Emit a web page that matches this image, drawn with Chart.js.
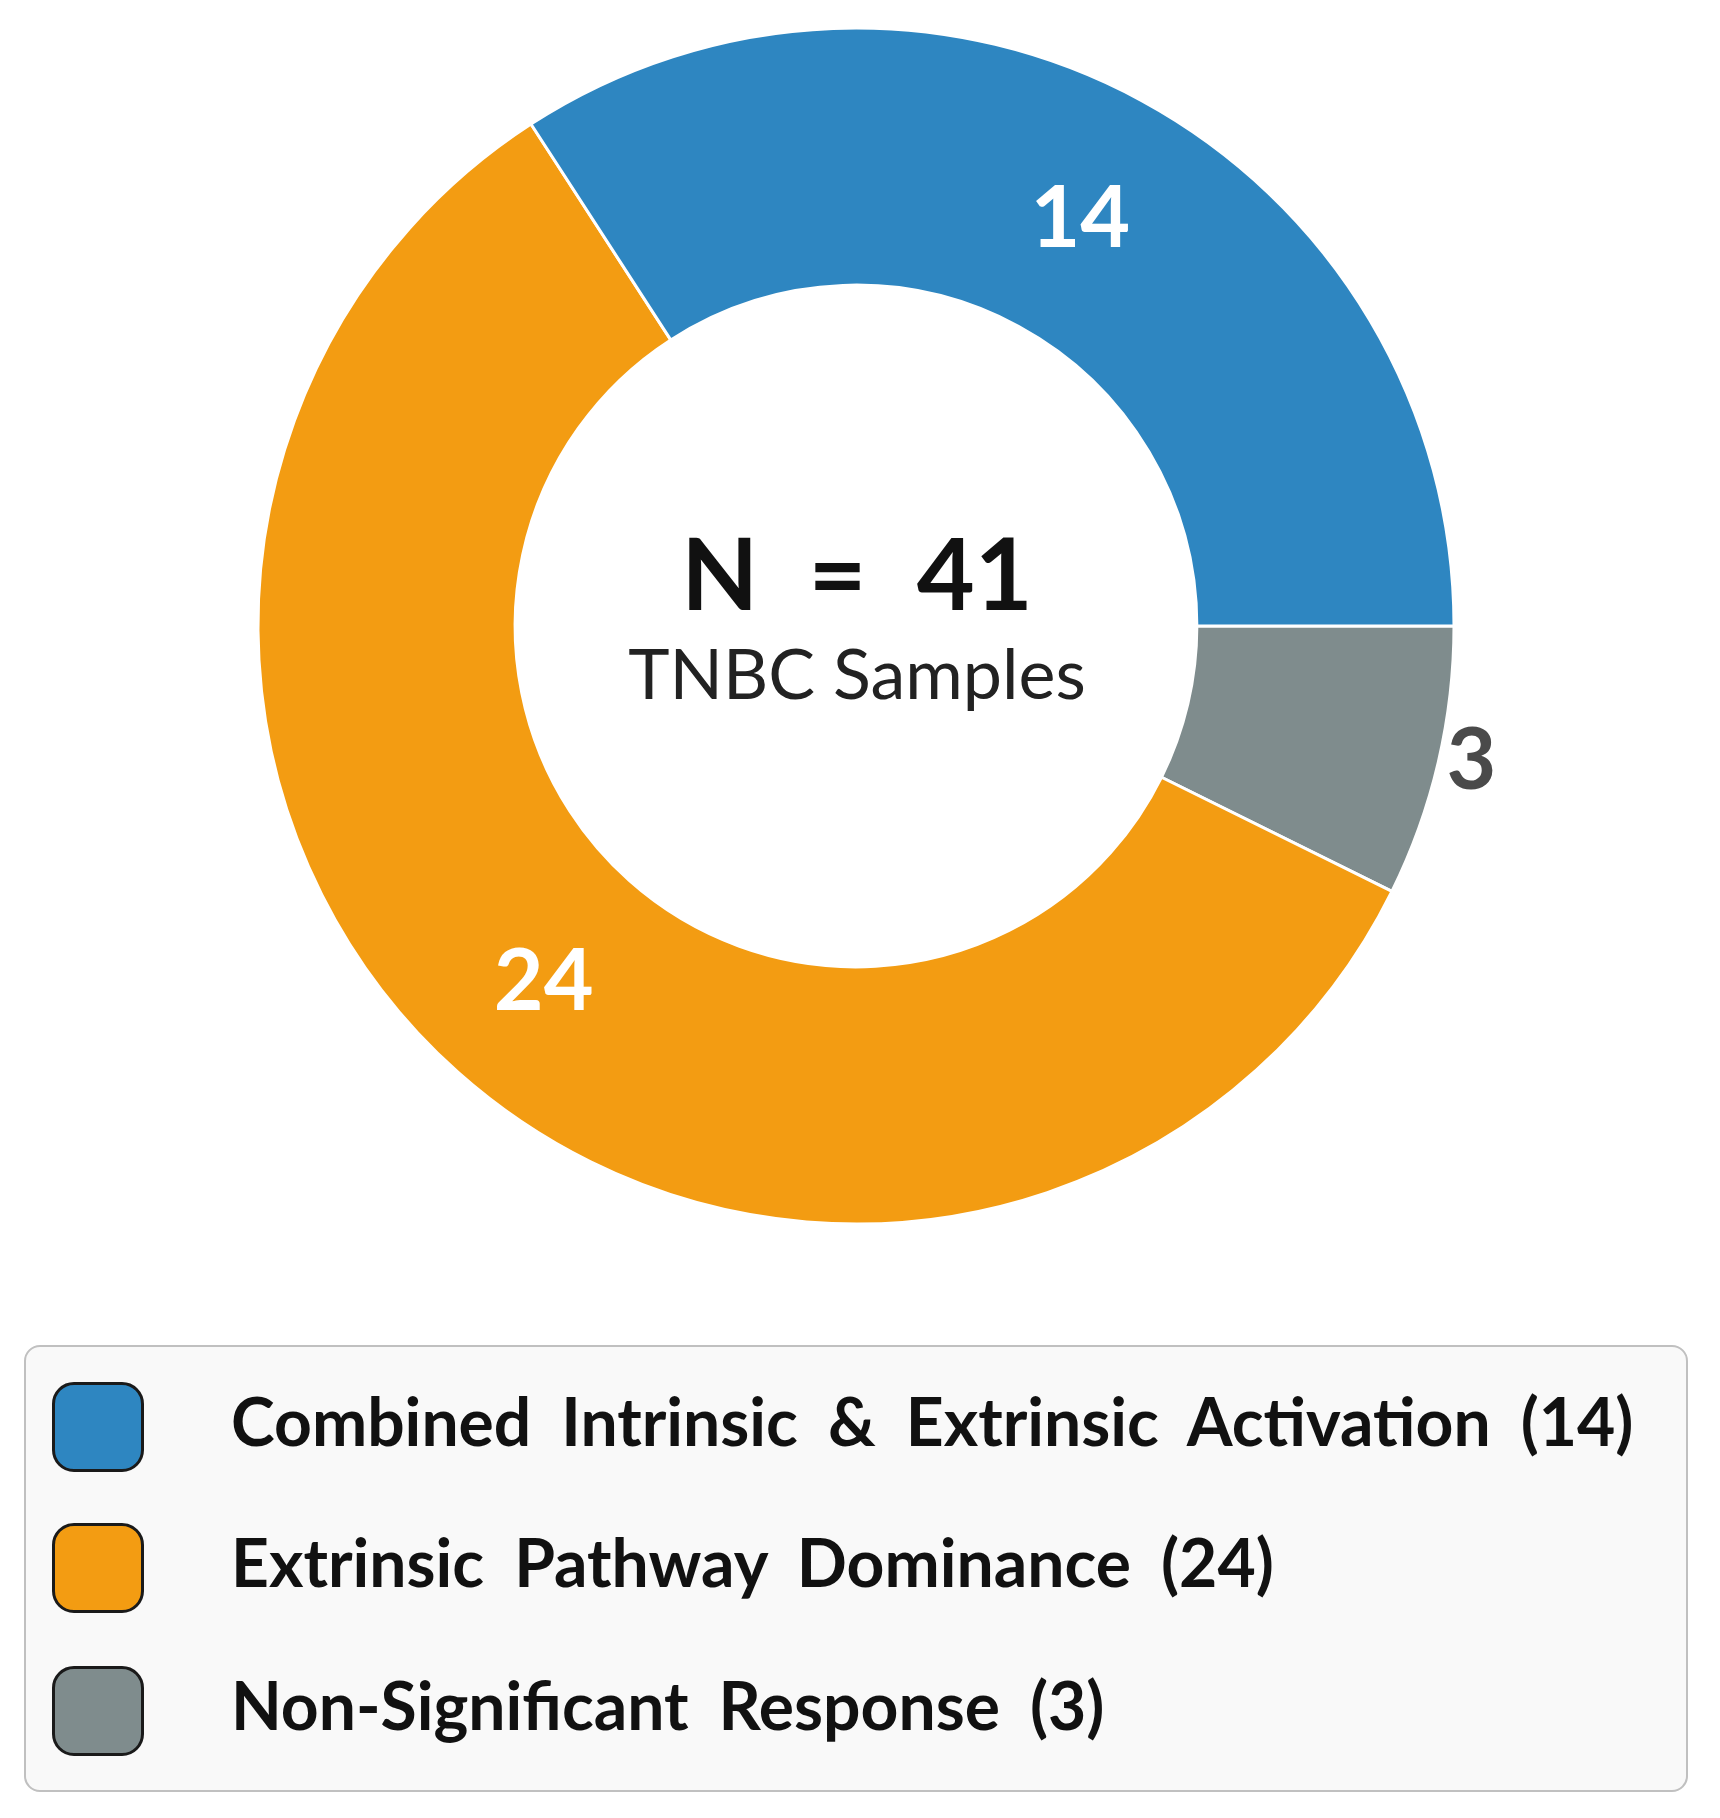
<!DOCTYPE html>
<html>
<head>
<meta charset="utf-8">
<title>TNBC Samples</title>
<script src="https://cdn.jsdelivr.net/npm/chart.js@4.4.1/dist/chart.umd.min.js"></script>
<style>
  body { margin: 0; background: #fff; font-family: Lato, 'DejaVu Sans', sans-serif; }
  .wrap { position: relative; width: 1720px; height: 1818px; }
  .chart-box { position: absolute; left: 0; top: 0; width: 1720px; height: 1300px; }
  #legend {
    position: absolute; left: 24px; top: 1345px; width: 1664px; height: 447px;
    box-sizing: border-box; border: 2px solid #c0c0c0; border-radius: 16px; background: #f9f9f9;
  }
  .item { position: absolute; left: 0; height: 100px; display: flex; align-items: center; }
  .swatch { width: 92px; height: 90px; margin-left: 26px; box-sizing: border-box; border: 3px solid #1a1a1a; border-radius: 22px; }
  .label {
    margin-left: 87px; position: relative; top: -7px;
    font-weight: bold; font-size: 66px; color: #111; word-spacing: 14px; white-space: nowrap;
  }
</style>
</head>
<body>
<div class="wrap">
  <div class="chart-box"><canvas id="donut"></canvas></div>
  <div id="legend"></div>
</div>
<script>
// values
const categories = ['Combined Intrinsic & Extrinsic Activation', 'Extrinsic Pathway Dominance', 'Non-Significant Response'];
const counts = [14, 24, 3];
const colors = ['#2E86C1', '#F39C12', '#7F8C8D'];
const subtitle = 'TNBC Samples';

const total = counts.reduce((a, b) => a + b, 0);

// Chart.js always goes clockwise, the figure goes counter-clockwise from 3 o'clock,
// so feed the slices in reverse order
const order = counts.map((_, i) => i).reverse();

// labels on the ring (small slices get theirs outside)
const sliceLabels = {
  id: 'sliceLabels',
  afterDatasetsDraw(chart) {
    const ctx = chart.ctx;
    const meta = chart.getDatasetMeta(0);
    const data = chart.data.datasets[0].data;
    const size = 86;
    ctx.save();
    ctx.font = 'bold ' + size + 'px Lato';
    ctx.textAlign = 'center';
    ctx.textBaseline = 'alphabetic';
    meta.data.forEach((arc, i) => {
      const p = arc.getProps(['x', 'y', 'startAngle', 'endAngle', 'innerRadius', 'outerRadius'], true);
      const mid = (p.startAngle + p.endAngle) / 2;
      let r = (p.innerRadius + p.outerRadius) / 2;
      let dy = size * 0.39;
      ctx.fillStyle = '#fff';
      if (data[i] / total < 0.1) {
        r = p.outerRadius * 1.057;
        dy = size * 0.22;
        ctx.fillStyle = '#4a4a4a';
      }
      ctx.fillText(data[i], p.x + Math.cos(mid) * r, p.y + Math.sin(mid) * r + dy);
    });
    ctx.restore();
  }
};

// "N = 41" in the hole
const centerText = {
  id: 'centerText',
  afterDraw(chart) {
    const arc = chart.getDatasetMeta(0).data[0];
    const ctx = chart.ctx;
    ctx.save();
    ctx.textAlign = 'center';
    ctx.textBaseline = 'alphabetic';
    ctx.fillStyle = '#111';
    ctx.font = 'bold 100px Lato';
    ctx.wordSpacing = '26px';
    ctx.fillText('N = ' + total, arc.x + 1, arc.y - 16);
    ctx.wordSpacing = '0px';
    ctx.font = '70px Lato';
    ctx.fillStyle = '#222';
    ctx.fillText(subtitle, arc.x + 1, arc.y + 73);
    ctx.restore();
  }
};

const chart = new Chart(document.getElementById('donut'), {
  type: 'doughnut',
  data: {
    labels: order.map(i => categories[i]),
    datasets: [{
      data: order.map(i => counts[i]),
      backgroundColor: order.map(i => colors[i]),
      borderColor: '#ffffff',
      borderWidth: 3,
      radius: 598,
      cutout: '57%'
    }]
  },
  options: {
    responsive: true,
    maintainAspectRatio: false,
    animation: false,
    rotation: 90,
    layout: { padding: { left: 0, right: 8, top: 0, bottom: 48 } },
    plugins: {
      legend: { display: false },
      tooltip: { enabled: false }
    }
  },
  plugins: [sliceLabels, centerText]
});

// html legend, in the original order
const legend = document.getElementById('legend');
const rowTops = [30, 171, 314];
categories.forEach((name, i) => {
  const item = document.createElement('div');
  item.className = 'item';
  item.style.top = rowTops[i] + 'px';
  const sw = document.createElement('span');
  sw.className = 'swatch';
  sw.style.background = colors[i];
  const txt = document.createElement('span');
  txt.className = 'label';
  txt.textContent = name + ' (' + counts[i] + ')';
  item.appendChild(sw);
  item.appendChild(txt);
  legend.appendChild(item);
});
</script>
</body>
</html>
